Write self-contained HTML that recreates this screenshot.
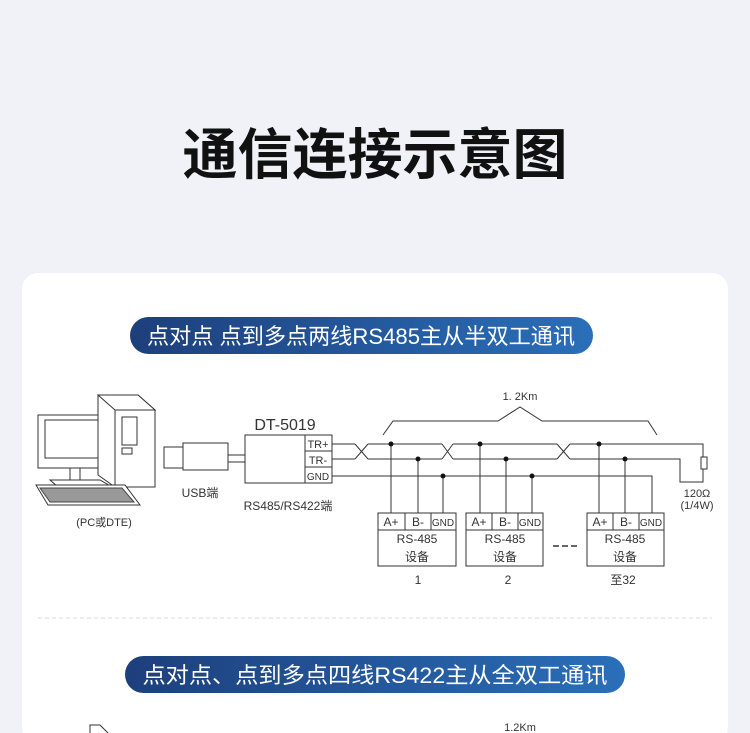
<!DOCTYPE html>
<html><head><meta charset="utf-8"><style>
html,body{margin:0;padding:0;background:#f1f2f7;width:750px;height:733px;overflow:hidden;}
svg{display:block;}
text{font-family:"Liberation Sans","Noto Sans CJK SC",sans-serif;}
</style></head><body>
<svg width="750" height="733" viewBox="0 0 750 733" xmlns="http://www.w3.org/2000/svg">
<defs>
<linearGradient id="g" x1="0" x2="1" y1="0" y2="0">
<stop offset="0" stop-color="#1d3f7c"/><stop offset="1" stop-color="#2a6fb9"/>
</linearGradient>
</defs>
<rect width="750" height="733" fill="#f1f2f7"/>
<text x="375" y="174" text-anchor="middle" font-size="55" font-weight="bold" fill="#111" font-family="Noto Sans CJK SC,sans-serif">通信连接示意图</text>
<rect x="22" y="273" width="706" height="470" rx="16" fill="#fff"/>
<rect x="130" y="317" width="463" height="37" rx="18.5" fill="url(#g)"/>
<text x="361" y="344" text-anchor="middle" font-size="22" fill="#fff" textLength="428" lengthAdjust="spacingAndGlyphs">点对点 点到多点两线RS485主从半双工通讯</text>
<line x1="38" y1="618" x2="712" y2="618" stroke="#d8dbe2" stroke-dasharray="4 3"/>
<rect x="125" y="656" width="500" height="37" rx="18.5" fill="url(#g)"/>
<text x="375" y="683" text-anchor="middle" font-size="22" fill="#fff" textLength="465" lengthAdjust="spacingAndGlyphs">点对点、点到多点四线RS422主从全双工通讯</text>

<g stroke="#333" fill="none" stroke-width="1">
<rect x="38" y="415" width="67" height="53" fill="#fff"/>
<rect x="45" y="420" width="54" height="38"/>
<rect x="70" y="468" width="10" height="12"/>
<polygon points="50,480 100,480 112,487 58,487" fill="#fff"/>
<polygon points="98,395 138,395 155,410 155,487 115,487 98,475" fill="#fff"/>
<polygon points="98,395 115,410 155,410 138,395" fill="#fff"/>
<rect x="115" y="410" width="40" height="77"/>
<rect x="122" y="417" width="15" height="28"/>
<rect x="122" y="448" width="10" height="6"/>
<polygon points="36,485 125,485 140,505 48,505" fill="#fff"/>
<polygon points="40,488 122,488 134,502 50,502" fill="#999" stroke="#444"/>
<rect x="164" y="447" width="19" height="21"/>
<rect x="183" y="443" width="45" height="27"/>
<line x1="228" y1="455" x2="245" y2="455"/><line x1="228" y1="462" x2="245" y2="462"/>
<rect x="245" y="435" width="60" height="48"/>
<rect x="305" y="435" width="27" height="48"/>
<line x1="305" y1="451" x2="332" y2="451"/><line x1="305" y1="467" x2="332" y2="467"/>
<path d="M332 444 H355 M368 444 H442 M453 444 H557 M570 444 H703 V457"/>
<path d="M332 459 H355 M368 459 H442 M453 459 H557 M570 459 H680 V482 H703 V469"/>
<path d="M355 444 L368 459 M355 459 L368 444 M442 444 L453 459 M442 459 L453 444 M557 444 L570 459 M557 459 L570 444"/>
<rect x="701" y="457" width="6" height="12"/>
<path d="M332 476 H652 V513"/>
<path d="M391 444V513 M418 459V513 M443 476V513 M480 444V513 M506 459V513 M532 476V513 M599 444V513 M625 459V513"/>
<rect x="378" y="513" width="78" height="53"/><path d="M378 530H456 M405 513V530 M431 513V530"/>
<rect x="466" y="513" width="77" height="53"/><path d="M466 530H543 M492 513V530 M518 513V530"/>
<rect x="587" y="513" width="77" height="53"/><path d="M587 530H664 M613 513V530 M639 513V530"/>
<path d="M553 546H580" stroke-dasharray="6 3" stroke-width="1.5"/>
<path d="M383 435 L393 421 H498 L520 407 L542 421 H648 L657 435"/>
</g>
<g fill="#111">
<circle cx="391" cy="444" r="2.5"/><circle cx="418" cy="459" r="2.5"/><circle cx="443" cy="476" r="2.5"/>
<circle cx="480" cy="444" r="2.5"/><circle cx="506" cy="459" r="2.5"/><circle cx="532" cy="476" r="2.5"/>
<circle cx="599" cy="444" r="2.5"/><circle cx="625" cy="459" r="2.5"/>
</g>
<g fill="#333" font-size="11">
<text x="318" y="448" text-anchor="middle">TR+</text>
<text x="318" y="464" text-anchor="middle">TR-</text>
<text x="318" y="480" text-anchor="middle" font-size="10">GND</text>
<text x="285" y="430" text-anchor="middle" font-size="16">DT-5019</text>
<text x="200" y="497" text-anchor="middle" font-size="12">USB端</text>
<text x="288" y="510" text-anchor="middle" font-size="12">RS485/RS422端</text>
<text x="104" y="526" text-anchor="middle" font-size="11">(PC或DTE)</text>
<text x="520" y="400" text-anchor="middle" font-size="11">1. 2Km</text>
<text x="697" y="497" text-anchor="middle" font-size="11">120Ω</text>
<text x="697" y="509" text-anchor="middle" font-size="11">(1/4W)</text>
<g font-size="12" text-anchor="middle">
<text x="391" y="526">A+</text><text x="418" y="526">B-</text><text x="443" y="526" font-size="10">GND</text>
<text x="479" y="526">A+</text><text x="505" y="526">B-</text><text x="530" y="526" font-size="10">GND</text>
<text x="600" y="526">A+</text><text x="626" y="526">B-</text><text x="651" y="526" font-size="10">GND</text>
<text x="417" y="543">RS-485</text><text x="417" y="561">设备</text>
<text x="505" y="543">RS-485</text><text x="505" y="561">设备</text>
<text x="625" y="543">RS-485</text><text x="625" y="561">设备</text>
<text x="418" y="584">1</text><text x="508" y="584">2</text><text x="623" y="584">至32</text>
</g>
<text x="520" y="731" text-anchor="middle" font-size="11">1.2Km</text>
</g>
<path d="M90 733 V725 H100 L108 733" stroke="#333" fill="none"/>
</svg>
</body></html>
